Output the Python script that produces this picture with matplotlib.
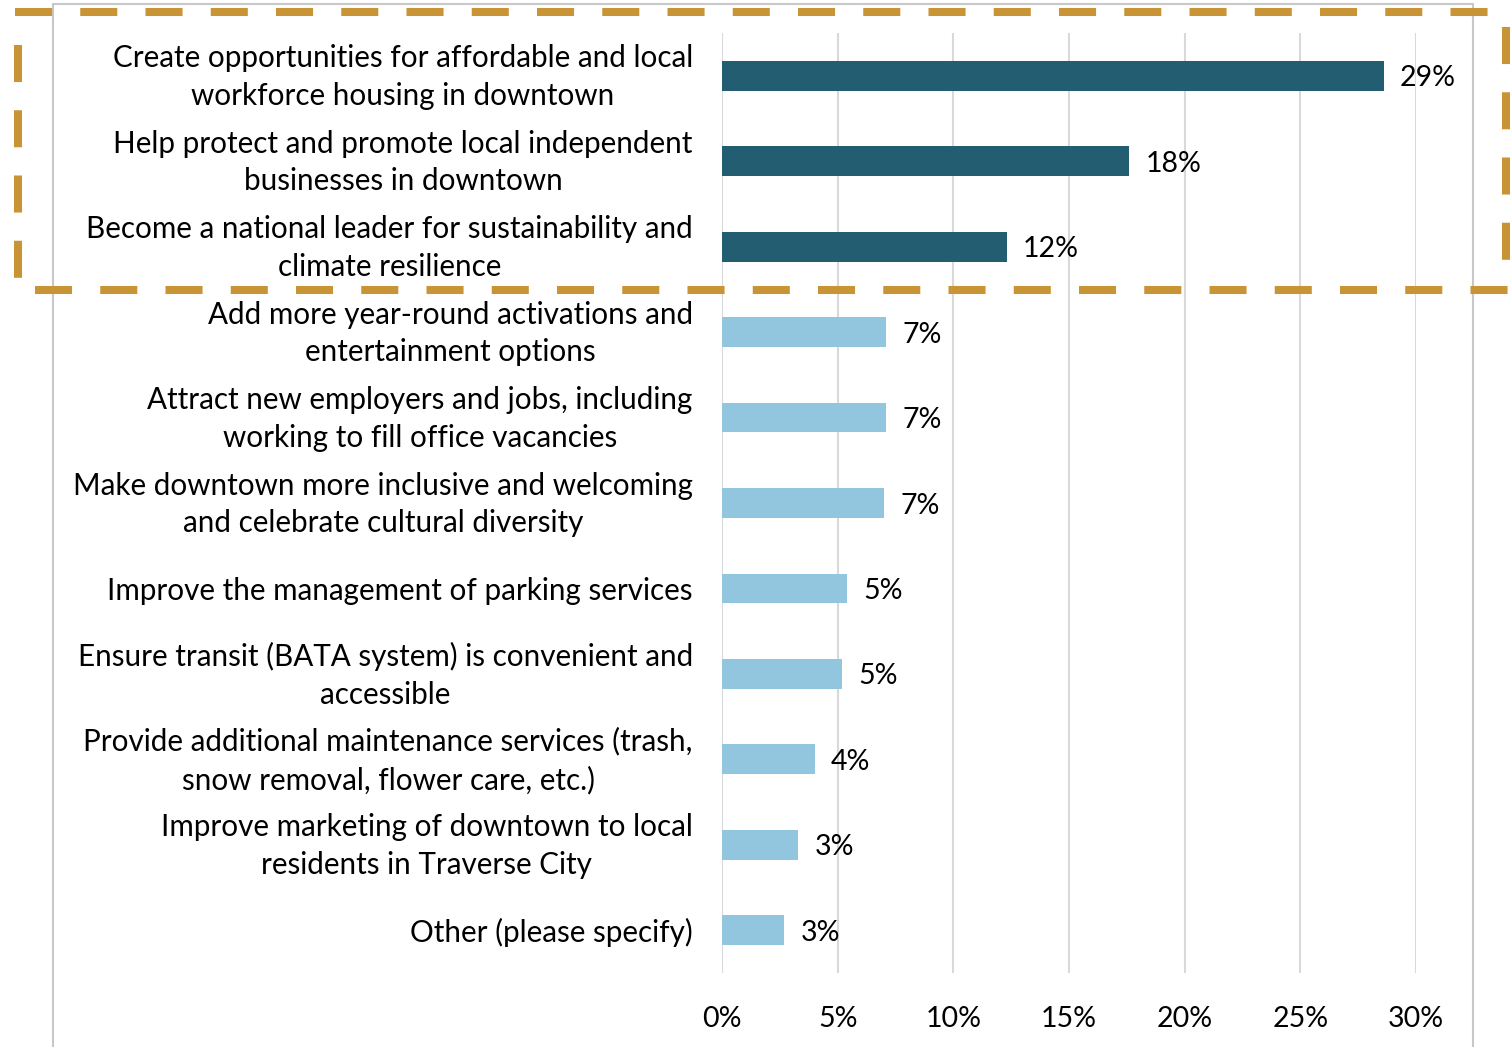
import matplotlib
matplotlib.use("Agg")
import matplotlib.pyplot as plt
from matplotlib.lines import Line2D
from matplotlib.patches import Rectangle
from matplotlib.transforms import ScaledTranslation

plt.rcParams['font.family'] = ['Lato', 'DejaVu Sans']

categories = [
    "Create opportunities for affordable and local\nworkforce housing in downtown",
    "Help protect and promote local independent\nbusinesses in downtown",
    "Become a national leader for sustainability and\nclimate resilience",
    "Add more year-round activations and\nentertainment options",
    "Attract new employers and jobs, including\nworking to fill office vacancies",
    "Make downtown more inclusive and welcoming\nand celebrate cultural diversity",
    "Improve the management of parking services",
    "Ensure transit (BATA system) is convenient and\naccessible",
    "Provide additional maintenance services (trash,\nsnow removal, flower care, etc.)",
    "Improve marketing of downtown to local\nresidents in Traverse City",
    "Other (please specify)",
]
shares = [28.6, 17.6, 12.3, 7.1, 7.1, 7.0, 5.4, 5.2, 4.0, 3.3, 2.7]
highlighted = [True, True, True, False, False, False, False, False, False, False, False]
xticks = [0, 5, 10, 15, 20, 25, 30]

DARK = "#235d72"
LIGHT = "#92c5de"
GOLD = "#c99436"
GRID = "#d9d9d9"

W, H = 1511, 1047
fig = plt.figure(figsize=(W / 100, H / 100), dpi=100)
ax = fig.add_axes([722 / W, 1 - 973 / H, 694 / W, 940 / H])

ypos = list(range(len(categories)))
colors = [DARK if h else LIGHT for h in highlighted]
ax.barh(ypos, shares, height=0.35, color=colors, zorder=3)
for y, v in zip(ypos, shares):
    ax.text(v + 0.7, y + 0.03, f"{v:.0f}%", va='center', ha='left', fontsize=20.5)

ax.set_xlim(0, 30)
ax.set_ylim(len(categories) - 0.5, -0.5)
ax.set_xticks(xticks)
ax.set_xticklabels([f"{t}%" for t in xticks], fontsize=20.5)
ax.set_yticks(ypos)
ax.set_yticklabels(categories, fontsize=21.3, multialignment='center', linespacing=1.42)
ax.tick_params(axis='y', length=0, pad=21)
ax.tick_params(axis='x', length=0, pad=24)
ax.grid(axis='x', color=GRID, linewidth=1.5, zorder=0)
for s in ax.spines.values():
    s.set_visible(False)

# two-line labels sit a little high, centred on the bar
lift = ScaledTranslation(0, 6 / 100, fig.dpi_scale_trans)
for lbl in ax.get_yticklabels():
    if "\n" in lbl.get_text():
        lbl.set_transform(lbl.get_transform() + lift)

# light chart frame
fig.add_artist(Rectangle((53 / W, -0.01), (1473 - 53) / W, 1 - 4 / H + 0.01,
                         transform=fig.transFigure, fill=False,
                         edgecolor="#c8c8c8", linewidth=1.5))

# dashed highlight box around the top three priorities
dash = dict(color=GOLD, linewidth=5.8, linestyle=(0, (4.6, 3.5)),
            transform=fig.transFigure, solid_capstyle='butt')
def px_line(x0, y0, x1, y1):
    fig.add_artist(Line2D([x0 / W, x1 / W], [1 - y0 / H, 1 - y1 / H], **dash))

px_line(15, 12, 1494, 12)
px_line(18, 45, 18, 280)
px_line(1506, 27, 1506, 265)
px_line(35, 290, 1511, 290)

fig.savefig("out.png", dpi=100, facecolor="white")
